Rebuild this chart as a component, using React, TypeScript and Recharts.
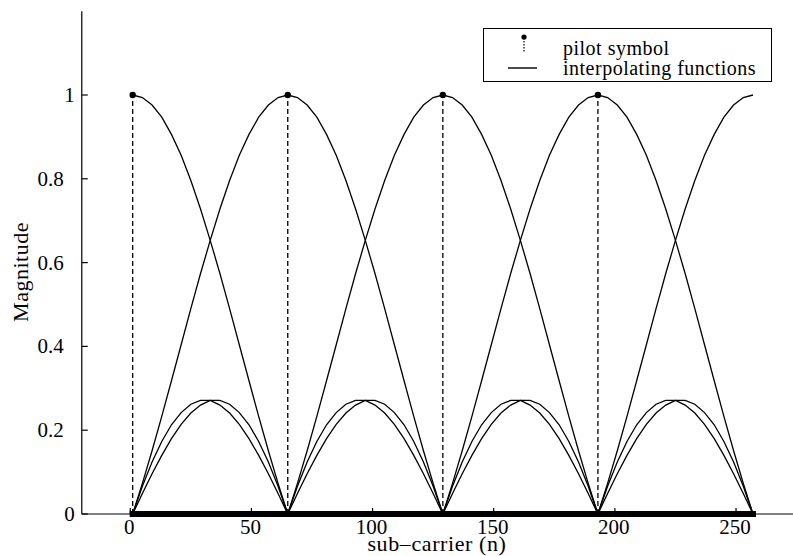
import { ComposedChart, Line, Scatter, XAxis, YAxis, ReferenceLine, Legend } from 'recharts'

// sub-carrier index of each sample (every 4th carrier)
const subcarrier = [
  1, 5, 9, 13, 17, 21, 25, 29, 33, 37, 41, 45, 49, 53, 57, 61, 65,
  69, 73, 77, 81, 85, 89, 93, 97, 101, 105, 109, 113, 117, 121, 125, 129,
  133, 137, 141, 145, 149, 153, 157, 161, 165, 169, 173, 177, 181, 185, 189, 193,
  197, 201, 205, 209, 213, 217, 221, 225, 229, 233, 237, 241, 245, 249, 253, 257,
]

// interpolating function magnitude for the pilot at each carrier
const interp1 = [
  1, 0.994, 0.976, 0.947, 0.906, 0.856, 0.796, 0.728, 0.653, 0.574, 0.49, 0.404, 0.318, 0.233, 0.151, 0.073, 0,
  0.066, 0.124, 0.173, 0.213, 0.242, 0.262, 0.271, 0.271, 0.26, 0.241, 0.214, 0.18, 0.14, 0.096, 0.049, 0,
  0.049, 0.096, 0.14, 0.18, 0.214, 0.241, 0.26, 0.271, 0.271, 0.262, 0.242, 0.213, 0.173, 0.124, 0.066, 0,
  0.073, 0.151, 0.233, 0.318, 0.404, 0.49, 0.574, 0.653, 0.728, 0.796, 0.856, 0.906, 0.947, 0.976, 0.994, 1,
]
const interp65 = [
  0, 0.073, 0.151, 0.233, 0.318, 0.404, 0.49, 0.574, 0.653, 0.728, 0.796, 0.856, 0.906, 0.947, 0.976, 0.994, 1,
  0.994, 0.976, 0.947, 0.906, 0.856, 0.796, 0.728, 0.653, 0.574, 0.49, 0.404, 0.318, 0.233, 0.151, 0.073, 0,
  0.066, 0.124, 0.173, 0.213, 0.242, 0.262, 0.271, 0.271, 0.26, 0.241, 0.214, 0.18, 0.14, 0.096, 0.049, 0,
  0.049, 0.096, 0.14, 0.18, 0.214, 0.241, 0.26, 0.271, 0.271, 0.262, 0.242, 0.213, 0.173, 0.124, 0.066, 0,
]
const interp129 = [
  0, 0.049, 0.096, 0.14, 0.18, 0.214, 0.241, 0.26, 0.271, 0.271, 0.262, 0.242, 0.213, 0.173, 0.124, 0.066, 0,
  0.073, 0.151, 0.233, 0.318, 0.404, 0.49, 0.574, 0.653, 0.728, 0.796, 0.856, 0.906, 0.947, 0.976, 0.994, 1,
  0.994, 0.976, 0.947, 0.906, 0.856, 0.796, 0.728, 0.653, 0.574, 0.49, 0.404, 0.318, 0.233, 0.151, 0.073, 0,
  0.066, 0.124, 0.173, 0.213, 0.242, 0.262, 0.271, 0.271, 0.26, 0.241, 0.214, 0.18, 0.14, 0.096, 0.049, 0,
]
const interp193 = [
  0, 0.066, 0.124, 0.173, 0.213, 0.242, 0.262, 0.271, 0.271, 0.26, 0.241, 0.214, 0.18, 0.14, 0.096, 0.049, 0,
  0.049, 0.096, 0.14, 0.18, 0.214, 0.241, 0.26, 0.271, 0.271, 0.262, 0.242, 0.213, 0.173, 0.124, 0.066, 0,
  0.073, 0.151, 0.233, 0.318, 0.404, 0.49, 0.574, 0.653, 0.728, 0.796, 0.856, 0.906, 0.947, 0.976, 0.994, 1,
  0.994, 0.976, 0.947, 0.906, 0.856, 0.796, 0.728, 0.653, 0.574, 0.49, 0.404, 0.318, 0.233, 0.151, 0.073, 0,
]

const pilotCarrier = [1, 65, 129, 193]
const pilotValue = [1, 1, 1, 1]

const xTicks = [0, 50, 100, 150, 200, 250]
const yTicks = [0, 0.2, 0.4, 0.6, 0.8, 1]

const legendItems = ['pilot symbol', 'interpolating functions']

const FONT = "'Liberation Serif', 'Times New Roman', 'DejaVu Serif', serif"

const rows = subcarrier.map((n, i) => ({
  n,
  f1: interp1[i],
  f65: interp65[i],
  f129: interp129[i],
  f193: interp193[i],
  sym: 0,
}))

const pilots = pilotCarrier.map((n, i) => ({ n, v: pilotValue[i] }))

function BottomTick({ x, y, payload }: any) {
  return (
    <g>
      <line x1={x} x2={x} y1={y} y2={y - 6} stroke="#000" strokeWidth={1.2} />
      <text x={x - 1} y={y + 20} textAnchor="middle" style={{ fontFamily: FONT }} fontSize={21} fill="#000">
        {payload.value}
      </text>
    </g>
  )
}

function LeftTick({ x, y, payload }: any) {
  const label = String(payload.value)
  // single digit labels sit closer to the axis
  const end = label.length === 1 ? x - 7 : x - 18
  return (
    <g>
      <line x1={x} x2={x + 6} y1={y} y2={y} stroke="#000" strokeWidth={1.2} />
      <text x={end} y={y + 7} textAnchor="end" style={{ fontFamily: FONT }} fontSize={21} fill="#000">
        {label}
      </text>
    </g>
  )
}

function TopTick({ x, y }: any) {
  return <line x1={x} x2={x} y1={y} y2={y + 7} stroke="#000" strokeWidth={1.2} />
}

function RightTick({ x, y }: any) {
  return <line x1={x} x2={x - 6} y1={y} y2={y} stroke="#000" strokeWidth={1.2} />
}

function PilotDot({ cx, cy }: any) {
  return <circle cx={cx} cy={cy} r={3.2} fill="#000" />
}

function MagnitudeTitle() {
  return (
    <text
      x={28}
      y={272}
      transform="rotate(-90 28 272)"
      textAnchor="middle"
      style={{ fontFamily: FONT, letterSpacing: 0.5 }}
      fontSize={22}
      fill="#000"
    >
      Magnitude
    </text>
  )
}

function CarrierTitle() {
  return (
    <text x={437} y={551} textAnchor="middle" style={{ fontFamily: FONT, letterSpacing: 0.6 }} fontSize={22} fill="#000">
      sub–carrier (n)
    </text>
  )
}

function LegendBox() {
  return (
    <div
      style={{
        width: 287,
        height: 52,
        border: '1px solid #000',
        background: '#fff',
        position: 'relative',
      }}
    >
      <svg width={287} height={52} style={{ position: 'absolute', left: 0, top: 0 }}>
        <line x1={40} x2={40} y1={9} y2={24} stroke="#000" strokeWidth={1.2} strokeDasharray="1.5 1.5" />
        <circle cx={40} cy={8} r={2.6} fill="#000" />
        <line x1={24} x2={53} y1={39} y2={39} stroke="#000" strokeWidth={1.4} />
        {legendItems.map((t, i) => (
          <text
            key={t}
            x={79}
            y={26 + i * 20}
            style={{ fontFamily: FONT, letterSpacing: 0.5 }}
            fontSize={20}
            fill="#000"
          >
            {t}
          </text>
        ))}
      </svg>
    </div>
  )
}

const curveKeys = ['f1', 'f65', 'f129', 'f193']

export default function App() {
  return (
    <div
      style={{
        position: 'absolute',
        left: 0,
        top: 0,
        width: 793,
        height: 556,
        overflow: 'hidden',
        background: '#fff',
        fontFamily: FONT,
      }}
    >
      <ComposedChart width={810} height={556} data={rows} margin={{ top: 11.2, right: 13.4, bottom: 2, left: 11.8 }}>
        <XAxis
          dataKey="n"
          type="number"
          domain={[-20, 275]}
          ticks={xTicks}
          height={40}
          tickSize={0}
          tickMargin={0}
          tickLine={false}
          tick={<BottomTick />}
          axisLine={{ stroke: '#000', strokeWidth: 1.2 }}
          label={<CarrierTitle />}
        />
        <XAxis
          xAxisId="top"
          orientation="top"
          type="number"
          domain={[-20, 275]}
          ticks={xTicks}
          allowDataOverflow
          height={0}
          tickSize={0}
          tickMargin={0}
          tickLine={false}
          tick={<TopTick />}
          axisLine={{ stroke: '#000', strokeWidth: 1.2 }}
        />
        <YAxis
          type="number"
          domain={[0, 1.2]}
          ticks={yTicks}
          width={70}
          tickSize={0}
          tickMargin={0}
          tickLine={false}
          tick={<LeftTick />}
          axisLine={{ stroke: '#000', strokeWidth: 1.2 }}
          label={<MagnitudeTitle />}
        />
        <YAxis
          yAxisId="right"
          orientation="right"
          type="number"
          domain={[0, 1.2]}
          ticks={yTicks}
          allowDataOverflow
          width={0}
          tickSize={0}
          tickMargin={0}
          tickLine={false}
          tick={<RightTick />}
          axisLine={{ stroke: '#000', strokeWidth: 1.2 }}
        />
        <Legend
          layout="horizontal"
          verticalAlign="middle"
          align="center"
          content={<LegendBox />}
          wrapperStyle={{ left: 483, top: 28, width: 289, height: 54 }}
        />
        {pilots.map((p) => (
          <ReferenceLine
            key={p.n}
            segment={[
              { x: p.n, y: 0 },
              { x: p.n, y: p.v },
            ]}
            stroke="#000"
            strokeWidth={1.3}
            strokeDasharray="5 3"
          />
        ))}
        {/* data symbols on the remaining carriers */}
        <Line
          dataKey="sym"
          type="linear"
          stroke="#000"
          strokeWidth={6}
          strokeLinecap="square"
          dot={false}
          activeDot={false}
          legendType="none"
          isAnimationActive={false}
        />
        {curveKeys.map((k) => (
          <Line
            key={k}
            dataKey={k}
            type="linear"
            stroke="#000"
            strokeWidth={1.3}
            dot={false}
            activeDot={false}
            legendType="none"
            isAnimationActive={false}
          />
        ))}
        <Scatter data={pilots} dataKey="v" shape={<PilotDot />} legendType="none" isAnimationActive={false} />
      </ComposedChart>
    </div>
  )
}
